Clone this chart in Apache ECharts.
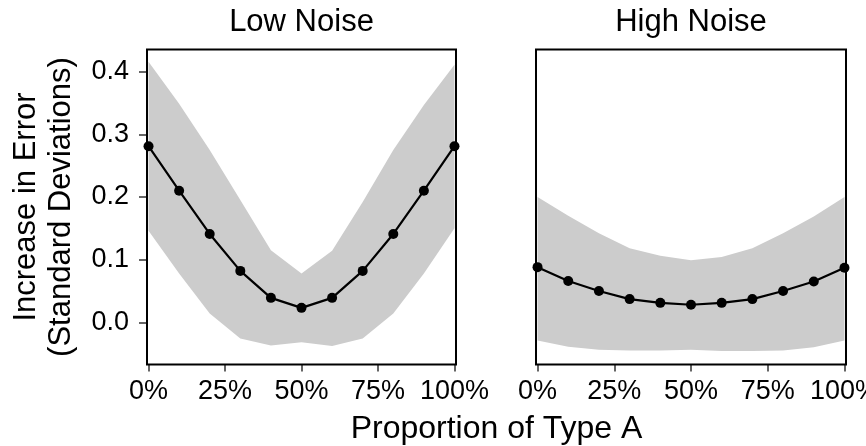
<!DOCTYPE html>
<html>
<head>
<meta charset="utf-8">
<script src="https://cdn.jsdelivr.net/npm/echarts@6/dist/echarts.min.js"></script>
<style>
html,body{margin:0;padding:0;background:#fff;}
#chart{width:866px;height:446px;}
</style>
</head>
<body>
<div id="chart"></div>
<script>
// ---- data ----
const proportions = [0, 0.1, 0.2, 0.3, 0.4, 0.5, 0.6, 0.7, 0.8, 0.9, 1.0];
const panelTitles = ['Low Noise', 'High Noise'];
const xTicks = [0, 0.25, 0.5, 0.75, 1.0];
const yTicks = [0.0, 0.1, 0.2, 0.3, 0.4];

const lowMean  = [0.281, 0.210, 0.141, 0.082, 0.039, 0.023, 0.039, 0.082, 0.141, 0.210, 0.281];
const lowUpper = [0.416, 0.349, 0.275, 0.195, 0.115, 0.078, 0.114, 0.192, 0.275, 0.347, 0.411];
const lowLower = [0.146, 0.078, 0.014, -0.026, -0.037, -0.032, -0.038, -0.026, 0.014, 0.078, 0.150];

const highMean  = [0.088, 0.066, 0.050, 0.037, 0.031, 0.028, 0.031, 0.037, 0.050, 0.065, 0.087];
const highUpper = [0.200, 0.170, 0.142, 0.118, 0.106, 0.099, 0.104, 0.118, 0.142, 0.169, 0.200];
const highLower = [-0.029, -0.039, -0.044, -0.045, -0.045, -0.044, -0.046, -0.046, -0.045, -0.040, -0.029];

const xAxisTitle = 'Proportion of Type A';
const yAxisTitle = 'Increase in Error\n(Standard Deviations)';

// ---- chart ----
const FONT = "'Liberation Sans', Arial, sans-serif";
const chart = echarts.init(document.getElementById('chart'), null, {renderer: 'canvas'});

const panels = [
  {mean: lowMean, upper: lowUpper, lower: lowLower},
  {mean: highMean, upper: highUpper, lower: highLower}
];
const grids = [
  {left: 147, top: 49.5, width: 309, height: 315, outerBoundsMode: 'none', containLabel: false},
  {left: 536, top: 49.5, width: 310, height: 315, outerBoundsMode: 'none', containLabel: false}
];

const xAxes = grids.map((g, i) => ({
  type: 'value', gridIndex: i, min: -0.005, max: 1.005,
  axisLine: {show: false, onZero: false},
  splitLine: {show: false},
  axisTick: {show: true, customValues: xTicks, length: 7, lineStyle: {color: '#333', width: 1.5}},
  axisLabel: {show: true, customValues: xTicks, margin: 14, color: '#000',
    fontFamily: FONT, fontSize: 27, hideOverlap: false,
    formatter: v => Math.round(v * 100) + '%'}
}));
const yAxes = grids.map((g, i) => ({
  type: 'value', gridIndex: i, min: -0.0674, max: 0.4354,
  axisLine: {show: false, onZero: false},
  splitLine: {show: false},
  axisTick: {show: i === 0, customValues: yTicks, length: 8, lineStyle: {color: '#333', width: 1.5}},
  axisLabel: {show: i === 0, customValues: yTicks, margin: 18, color: '#000',
    fontFamily: FONT, fontSize: 27,
    formatter: v => v.toFixed(1)}
}));

const series = [];
panels.forEach((p, i) => {
  const rows = proportions.map((x, k) => [x, p.lower[k], p.upper[k]]);
  series.push({
    type: 'custom', xAxisIndex: i, yAxisIndex: i, silent: true, z: 1,
    data: rows,
    encode: {x: 0, y: [1, 2]},
    renderItem: function (params, api) {
      if (params.dataIndex !== 0) return null;
      const pts = [];
      rows.forEach(r => pts.push(api.coord([r[0], r[2]])));
      for (let k = rows.length - 1; k >= 0; k--) pts.push(api.coord([rows[k][0], rows[k][1]]));
      return {type: 'polygon', shape: {points: pts}, style: {fill: '#cccccc'}};
    }
  });
  series.push({
    type: 'line', xAxisIndex: i, yAxisIndex: i,
    data: proportions.map((x, k) => [x, p.mean[k]]),
    symbol: 'circle', symbolSize: 10,
    itemStyle: {color: '#000'},
    lineStyle: {color: '#000', width: 2.2}, z: 3
  });
});

const graphics = [];
grids.forEach((g, i) => {
  graphics.push({
    type: 'rect', z: 10, silent: true,
    shape: {x: g.left, y: g.top, width: g.width, height: g.height},
    style: {fill: 'none', stroke: '#000', lineWidth: 2}
  });
  graphics.push({
    type: 'text', z: 10, x: g.left + g.width / 2, y: 22,
    style: {text: panelTitles[i], font: '31px ' + FONT, fill: '#000',
      textAlign: 'center', textVerticalAlign: 'middle'}
  });
});
graphics.push({
  type: 'text', z: 10, x: (grids[0].left + grids[1].left + grids[1].width) / 2, y: 429,
  style: {text: xAxisTitle, font: '32px ' + FONT, fill: '#000',
    textAlign: 'center', textVerticalAlign: 'middle'}
});
graphics.push({
  type: 'text', z: 10, x: 44, y: grids[0].top + grids[0].height / 2, rotation: Math.PI / 2,
  style: {text: yAxisTitle, font: '31px ' + FONT, fill: '#000', lineHeight: 35,
    textAlign: 'center', textVerticalAlign: 'middle'}
});

chart.setOption({
  animation: false,
  backgroundColor: '#fff',
  grid: grids,
  xAxis: xAxes,
  yAxis: yAxes,
  series: series,
  graphic: {elements: graphics}
});
</script>
</body>
</html>
